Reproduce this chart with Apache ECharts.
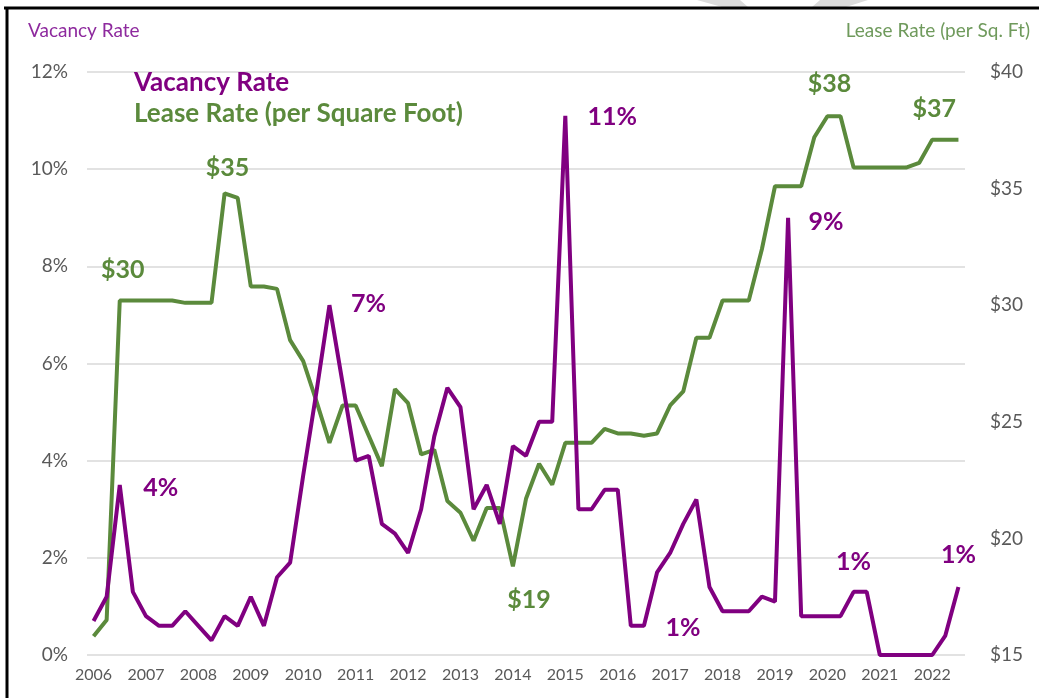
<!DOCTYPE html>
<html><head><meta charset="utf-8">
<script src="https://cdn.jsdelivr.net/npm/echarts@6/dist/echarts.min.js"></script>
<style>html,body{margin:0;padding:0;background:#fff}#c{width:1039px;height:698px}</style>
</head><body><div id="c"></div>
<script>
const years = ['2006','2007','2008','2009','2010','2011','2012','2013','2014','2015','2016','2017','2018','2019','2020','2021','2022'];
const quartersPerYear = ['Q1','Q2','Q3','Q4'];
const pointCount = 67;
const vacancyRate = [0.7,1.2,3.5,1.3,0.8,0.6,0.6,0.9,0.6,0.3,0.8,0.6,1.2,0.6,1.6,1.9,3.7,5.4,7.2,5.6,4.0,4.1,2.7,2.5,2.1,3.0,4.5,5.5,5.1,3.0,3.5,2.7,4.3,4.1,4.8,4.8,11.1,3.0,3.0,3.4,3.4,0.6,0.6,1.7,2.1,2.7,3.2,1.4,0.9,0.9,0.9,1.2,1.1,9.0,0.8,0.8,0.8,0.8,1.3,1.3,0,0,0,0,0,0.4,1.4];
const leaseRate = [15.8,16.5,30.2,30.2,30.2,30.2,30.2,30.1,30.1,30.1,34.8,34.6,30.8,30.8,30.7,28.5,27.6,25.9,24.1,25.7,25.7,24.4,23.1,26.4,25.8,23.6,23.8,21.6,21.1,19.9,21.3,21.3,18.8,21.7,23.2,22.3,24.1,24.1,24.1,24.7,24.5,24.5,24.4,24.5,25.7,26.3,28.6,28.6,30.2,30.2,30.2,32.4,35.1,35.1,35.1,37.2,38.1,38.1,35.9,35.9,35.9,35.9,35.9,36.1,37.1,37.1,37.1];
const vacancyTicks = [0,2,4,6,8,10,12];
const leaseTicks = [15,20,25,30,35,40];
// annotated points: [index, text]
const vacancyNotes = [[2,'4%'],[18,'7%'],[36,'11%'],[53,'9%'],[42,'1%'],[58,'1%'],[66,'1%']];
const leaseNotes = [[2,'$30'],[10,'$35'],[32,'$19'],[56,'$38'],[64,'$37']];

const categories = [];
for (const y of years) for (const q of quartersPerYear) if (categories.length < pointCount) categories.push(y + ' ' + q);

const PURPLE = '#800080', GREEN = '#5B8A3C';
const FONT = 'Lato, "Open Sans", sans-serif';
const vacOffsets = {2:[41,3],18:[39,-1],36:[47,1],53:[38,4],42:[39,2],58:[0,-30],66:[0,-32]};
const leaseOffsets = {2:[3,-31],10:[3,-25],32:[16,34],56:[2,-32],64:[2,-31]};

function notes(list, values, offs, color) {
  return list.map(([i, t]) => ({
    coord: [i, values[i]], symbol: 'rect', symbolSize: 0,
    label: {show: true, formatter: t, position: 'inside', offset: offs[i], color: color,
            fontFamily: FONT, fontSize: 25, fontWeight: 'bold'}
  }));
}

const chart = echarts.init(document.getElementById('c'), null, {renderer: 'canvas'});
chart.setOption({
  animation: false,
  textStyle: {fontFamily: FONT},
  title: [
    {text: 'Vacancy Rate', left: 28, top: 21, padding: 0, textStyle: {color: '#8E2A9E', fontSize: 19, fontWeight: 'normal', fontFamily: FONT}},
    {text: 'Lease Rate (per Sq. Ft)', right: 9, top: 21, padding: 0, textStyle: {color: '#6F9A5C', fontSize: 19, fontWeight: 'normal', fontFamily: FONT}}
  ],
  legend: {
    orient: 'vertical', left: 128, top: 70, padding: 0, itemWidth: 0, itemHeight: 0, itemGap: 5,
    data: [
      {name: 'Vacancy Rate', textStyle: {color: PURPLE}},
      {name: 'Lease Rate (per Square Foot)', textStyle: {color: GREEN}}
    ],
    textStyle: {fontSize: 26, fontWeight: 'bold', fontFamily: FONT}
  },
  grid: {left: 87, right: 74, top: 72, bottom: 43},
  xAxis: {
    type: 'category', data: categories, boundaryGap: true,
    axisLine: {show: false}, axisTick: {show: false},
    axisLabel: {interval: 3, formatter: v => v.slice(0, 4), color: '#595959', fontSize: 16, margin: 12, fontFamily: FONT}
  },
  yAxis: [
    {type: 'value', min: vacancyTicks[0], max: vacancyTicks[vacancyTicks.length-1], interval: 2,
     axisLine: {show: false}, axisTick: {show: false},
     splitLine: {lineStyle: {color: '#D9D9D9', width: 1.5}},
     axisLabel: {formatter: '{value}%', color: '#595959', fontSize: 19, margin: 19, fontFamily: FONT}},
    {type: 'value', min: leaseTicks[0], max: leaseTicks[leaseTicks.length-1], interval: 5,
     axisLine: {show: false}, axisTick: {show: false}, splitLine: {show: false},
     axisLabel: {formatter: '${value}', color: '#595959', fontSize: 19, margin: 25, fontFamily: FONT}}
  ],
  series: [
    {name: 'Vacancy Rate', type: 'line', yAxisIndex: 0, data: vacancyRate, showSymbol: false,
     lineStyle: {color: PURPLE, width: 4}, itemStyle: {color: PURPLE}, z: 3,
     markPoint: {data: notes(vacancyNotes, vacancyRate, vacOffsets, PURPLE)}},
    {name: 'Lease Rate (per Square Foot)', type: 'line', yAxisIndex: 1, data: leaseRate, showSymbol: false,
     lineStyle: {color: GREEN, width: 4}, itemStyle: {color: GREEN}, z: 2,
     markPoint: {data: notes(leaseNotes, leaseRate, leaseOffsets, GREEN)}}
  ],
  graphic: [
    {type: 'polygon', shape: {points: [[697,0],[740,0],[748,7],[722,7]]}, style: {fill: '#DCDCDC'}, z: -1},
    {type: 'polygon', shape: {points: [[820,0],[868,0],[846,7],[812,7]]}, style: {fill: '#DCDCDC'}, z: -1},
    {type: 'line', shape: {x1: 4, y1: 8, x2: 1039, y2: 8}, style: {stroke: '#000', lineWidth: 3}},
    {type: 'line', shape: {x1: 7, y1: 8, x2: 7, y2: 698}, style: {stroke: '#000', lineWidth: 3}}
  ]
});
</script></body></html>
